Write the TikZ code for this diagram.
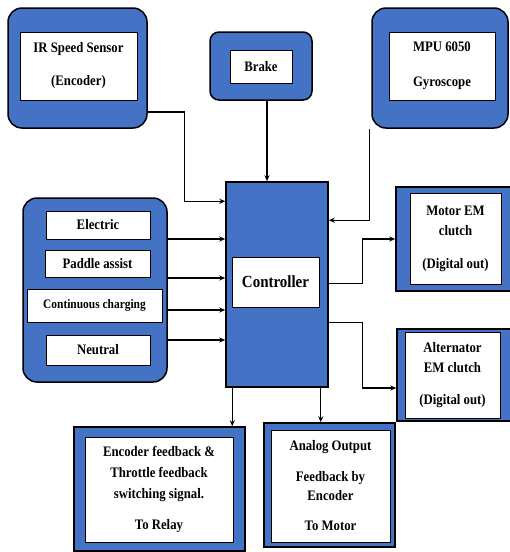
\documentclass[tikz,border=0pt]{standalone}
\usepackage{fontspec}
\setmainfont{Liberation Serif}[FakeStretch=0.88]
\usepackage{tikz}
\usetikzlibrary{positioning, arrows.meta, calc}
\definecolor{panelblue}{RGB}{68,114,196}

\begin{document}
\begin{tikzpicture}[x=1pt, y=-1pt]
					\tikzset{
						feed/.style={-{Stealth[length=6pt, width=5pt]}, line width=1.1pt},
						roundpanel/.style={draw, line width=1.5pt, fill=panelblue, rounded corners=14pt, inner sep=0pt},
						squarepanel/.style={draw, line width=1.5pt, fill=panelblue, inner sep=0pt},
						labelbox/.style={draw, line width=1pt, fill=white, inner sep=0pt, align=center, font=\bfseries\fontsize{14.5}{20}\selectfont}
					}
					\useasboundingbox (0,0) rectangle (510,552);
					\node[roundpanel, minimum width=139, minimum height=120] (irp) at (77.5,68) {};
					\node[roundpanel, rounded corners=9pt, minimum width=102, minimum height=68] (brp) at (261,66) {};
					\node[roundpanel, minimum width=136, minimum height=120] (mpp) at (440,68) {};
					\node[roundpanel, minimum width=144, minimum height=184] (grp) at (95,290) {};
					\node[squarepanel, minimum width=102, minimum height=205] (ctl) at (277,284.5) {};
					\node[squarepanel, minimum width=116, minimum height=104] (mec) at (454,239) {};
					\node[squarepanel, minimum width=115, minimum height=92] (alt) at (454.5,375) {};
					\node[squarepanel, minimum width=171, minimum height=124] (rly) at (159.5,489) {};
					\node[squarepanel, minimum width=131, minimum height=124] (mot) at (329.5,485) {};
					\node[labelbox, minimum width=117, minimum height=68] (irl) at (78.5,66) {IR Speed Sensor\\[13pt](Encoder)};
					\node[labelbox, minimum width=62, minimum height=33] (brl) at (261,66.5) {Brake};
					\node[labelbox, minimum width=106, minimum height=68] (mpl) at (442,66) {MPU 6050\\[15pt]Gyroscope};
					\node[labelbox, minimum width=87, minimum height=50, font=\bfseries\fontsize{17}{20}\selectfont] (ctll) at (275.5,282) {Controller};
					\node[labelbox, minimum width=104, minimum height=28] (gL1) at (98,225) {Electric};
					\node[labelbox, minimum width=105, minimum height=27] (gL2) at (97.5,263.5) {Paddle assist};
					\node[labelbox, minimum width=135, minimum height=33, font=\bfseries\fontsize{13}{20}\selectfont] (gL3) at (94.5,305.5) {Continuous charging};
					\node[labelbox, minimum width=104, minimum height=30] (gL4) at (98,350) {Neutral};
					\node[labelbox, minimum width=91, minimum height=91] (mecl) at (455.5,238.5) {Motor EM\\clutch\\[13pt](Digital out)};
					\node[labelbox, minimum width=95, minimum height=86] (altl) at (452.5,375) {Alternator\\EM clutch\\[12pt](Digital out)};
					\node[labelbox, minimum width=148, minimum height=105, font=\bfseries\fontsize{14.5}{21}\selectfont] (rlyl) at (159,489.5) {Encoder feedback \&\\Throttle feedback\\switching signal.\\[10pt]To Relay};
					\node[labelbox, minimum width=119, minimum height=112] (motl) at (330.5,486) {Analog Output\\[11pt]Feedback by\\[-1pt]Encoder\\[10pt]To Motor};
					\draw[feed] ([yshift=-44pt]irp.east) -- ++(37,0) |- ([yshift=-20pt]ctl.north west);
					\draw[feed] ([xshift=6pt]brp.south) -- ([xshift=6pt]brp.south |- ctl.north);
					\draw[feed] ([xshift=-2pt]mpp.south west) |- ([yshift=-39pt]ctl.north east);
					\foreach \y in {239,278,310,340} {
						\draw[feed] (grp.east |- 0,\y) -- (ctl.west |- 0,\y);
					}
					\draw[feed] ([yshift=-102pt]ctl.north east) -- ++(34,0) |- (mec.west);
					\draw[feed] ([yshift=-141pt]ctl.north east) -- ++(34,0) |- ([yshift=-13pt]alt.west);
					\draw[feed] ([xshift=7pt]ctl.south west) -- ([xshift=7pt]ctl.south west |- rly.north);
					\draw[feed] ([xshift=-8pt]ctl.south east) -- ([xshift=-8pt]ctl.south east |- mot.north);
				\end{tikzpicture}
\end{document}
